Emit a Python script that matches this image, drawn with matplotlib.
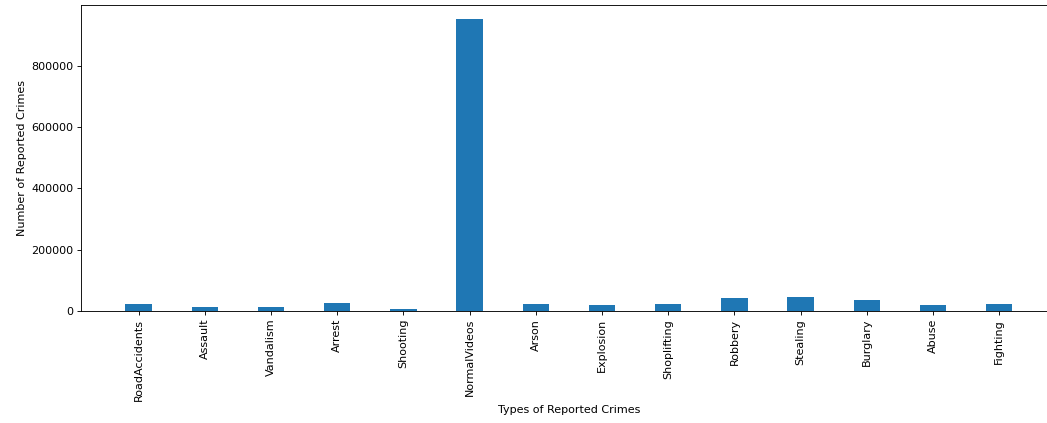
import matplotlib
matplotlib.use('Agg')
import matplotlib.pyplot as plt

crimes = ['RoadAccidents', 'Assault', 'Vandalism', 'Arrest', 'Shooting',
          'NormalVideos', 'Arson', 'Explosion', 'Shoplifting', 'Robbery',
          'Stealing', 'Burglary', 'Abuse', 'Fighting']
counts = [24000, 13000, 13000, 27000, 8000, 953000, 24000, 19500, 23000,
          41000, 45500, 37000, 19500, 23000]

fig = plt.figure(figsize=(1047 / 80, 423 / 80), dpi=80)
ax = fig.add_axes([0.0774, 0.2648, 0.932, 0.7245])
ax.bar(crimes, counts, width=0.4, color='#1f77b4')
ax.set_xlabel('Types of Reported Crimes')
ax.set_ylabel('Number of Reported Crimes')
ax.set_yticks([0, 200000, 400000, 600000, 800000])
ax.tick_params(axis='x', labelrotation=90)
fig.savefig('out.png', dpi=80)
